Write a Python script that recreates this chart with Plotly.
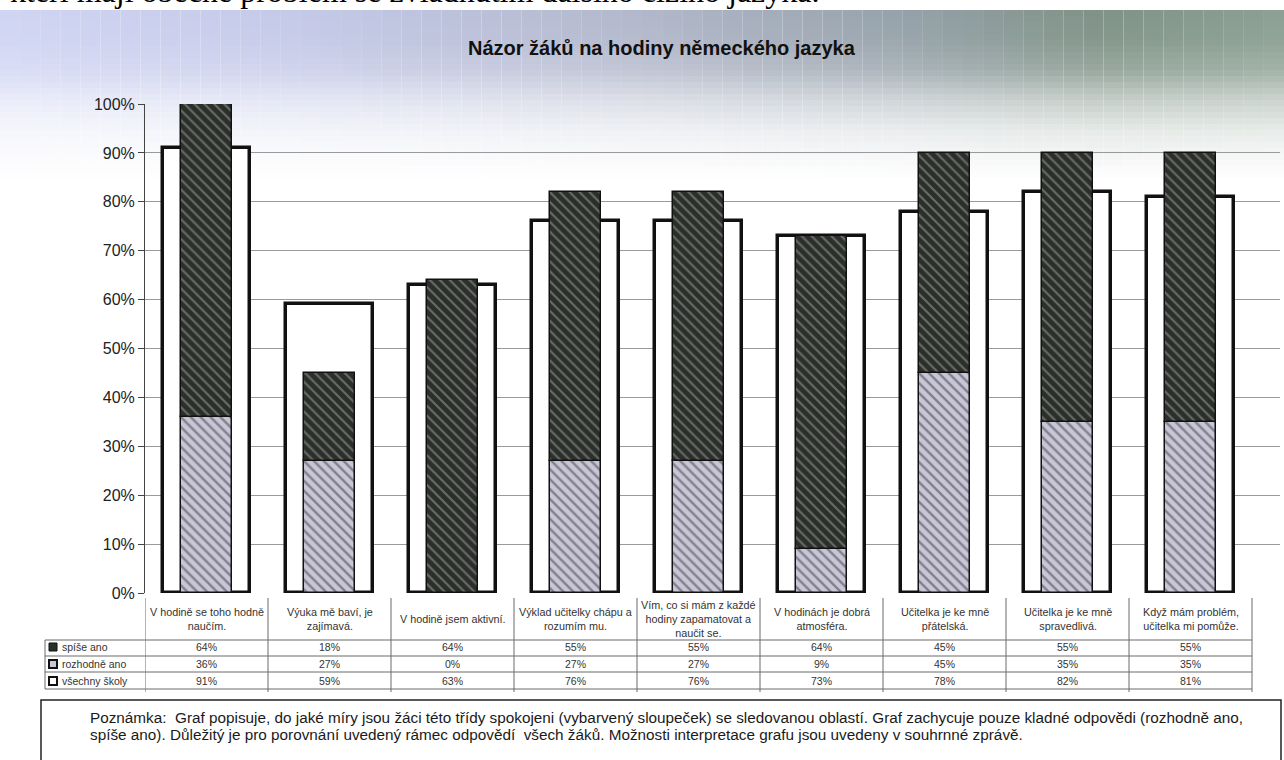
import plotly.graph_objects as go

# ---------------- data ----------------
categories = [
    "V hodině se toho hodně<br>naučím.",
    "Výuka mě baví, je<br>zajímavá.",
    "V hodině jsem aktivní.",
    "Výklad učitelky chápu a<br>rozumím mu.",
    "Vím, co si mám z každé<br>hodiny zapamatovat a<br>naučit se.",
    "V hodinách je dobrá<br>atmosféra.",
    "Učitelka je ke mně<br>přátelská.",
    "Učitelka je ke mně<br>spravedlivá.",
    "Když mám problém,<br>učitelka mi pomůže.",
]
spise_ano = [64, 18, 64, 55, 55, 64, 45, 55, 55]
rozhodne_ano = [36, 27, 0, 27, 27, 9, 45, 35, 35]
vsechny_skoly = [91, 59, 63, 76, 76, 73, 78, 82, 81]
series_names = ["spíše ano", "rozhodně ano", "všechny školy"]
y_ticks = [0, 10, 20, 30, 40, 50, 60, 70, 80, 90, 100]

title_text = "Názor žáků na hodiny německého jazyka"
top_text = "kteří mají obecně problém se zvládnutím dalšího cizího jazyka."
note_lines = [
    "Poznámka:  Graf popisuje, do jaké míry jsou žáci této třídy spokojeni (vybarvený sloupeček) se sledovanou oblastí. Graf zachycuje pouze kladné odpovědi (rozhodně ano,",
    "spíše ano). Důležitý je pro porovnání uvedený rámec odpovědí  všech žáků. Možnosti interpretace grafu jsou uvedeny v souhrnné zprávě.",
]

# ---------------- geometry helpers ----------------
W, H = 1284, 760
L, R, T, B = 145, 4, 104, 167
PW, PH = W - L - R, H - T - B
COLW = 1107 / 9.0          # width of one category column in px
XMAX = -0.5 + PW / COLW    # let gridlines run to the right edge


def fx(px):
    return (px - L) / PW


def fy(py):
    return (H - B - py) / PH


FONT = "Liberation Sans, Arial, sans-serif"
xs = list(range(len(categories)))

fig = go.Figure()

# outline bars (all schools)
fig.add_trace(go.Bar(
    x=xs, y=vsechny_skoly, width=0.7, name=series_names[2],
    marker=dict(color="rgba(255,255,255,1)", line=dict(color="#111", width=3.5)),
    hoverinfo="skip",
))
# rozhodně ano (lower, light hatched)
fig.add_trace(go.Bar(
    x=xs, y=rozhodne_ano, width=0.42, name=series_names[1],
    marker=dict(color="#3a3a48", line=dict(color="#111", width=1.5),
                pattern=dict(shape="\\", bgcolor="#c9c6d6", fgcolor="#3a3a48",
                             size=7, solidity=0.35)),
))
# spíše ano (upper, dark hatched)
fig.add_trace(go.Bar(
    x=xs, y=spise_ano, base=rozhodne_ano, width=0.42, name=series_names[0],
    marker=dict(color="#2b2f2a", line=dict(color="#111", width=1.5),
                pattern=dict(shape="\\", bgcolor="#2b2f2a", fgcolor="#a8a8a8",
                             size=7, solidity=0.3)),
))

shapes = []
annotations = []

# ---- scanned-paper tint band at the top (decoration) ----
key_x = [0, 300, 640, 900, 1100, 1284]
key_c = [(208, 213, 243), (196, 201, 232), (178, 184, 203), (150, 162, 170), (127, 146, 134), (140, 160, 147)]


def lerp_col(px):
    for i in range(len(key_x) - 1):
        if key_x[i] <= px <= key_x[i + 1]:
            t = (px - key_x[i]) / (key_x[i + 1] - key_x[i])
            return [key_c[i][j] + (key_c[i + 1][j] - key_c[i][j]) * t for j in range(3)]
    return list(key_c[-1])


alpha_keys = [(10, 1.0), (40, 0.95), (70, 0.8), (100, 0.45), (130, 0.2), (160, 0.07), (180, 0.0)]


def alpha_at(py):
    for i in range(len(alpha_keys) - 1):
        (y0, a0), (y1, a1) = alpha_keys[i], alpha_keys[i + 1]
        if y0 <= py <= y1:
            return a0 + (a1 - a0) * (py - y0) / (y1 - y0)
    return 0.0


row_edges = list(range(10, 181, 6))
ncol = 64
for i in range(ncol):
    x0p, x1p = i * W / ncol, (i + 1) * W / ncol
    base = lerp_col((x0p + x1p) / 2)
    for y0, y1 in zip(row_edges[:-1], row_edges[1:]):
        a = alpha_at((y0 + y1) / 2)
        c = [round(255 * (1 - a) + v * a) for v in base]
        shapes.append(dict(type="rect", xref="paper", yref="paper",
                           x0=fx(x0p), x1=fx(x1p), y0=fy(y1), y1=fy(y0),
                           fillcolor=f"rgb({c[0]},{c[1]},{c[2]})",
                           line=dict(width=0), layer="below"))

# top cropped text line (from the scanned page above)
annotations.append(dict(text=top_text, xref="paper", yref="paper", x=fx(8), y=fy(11),
                        xanchor="left", yanchor="bottom", showarrow=False,
                        font=dict(family="Liberation Serif, Times New Roman, serif", size=32, color="#000")))

# title
annotations.append(dict(text="<b>" + title_text + "</b>", xref="paper", yref="paper",
                        x=fx(662), y=fy(48), xanchor="center", yanchor="middle", showarrow=False,
                        font=dict(family=FONT, size=20, color="#111")))

# table geometry
row_y = [647, 664, 681]
row_vals = [spise_ano, rozhodne_ano, vsechny_skoly]
line_col = "#6a6a6a"
for k in range(len(categories) + 1):
    shapes.append(dict(type="line", xref="x", yref="paper", x0=k - 0.5, x1=k - 0.5,
                       y0=fy(598), y1=fy(692), line=dict(color=line_col, width=1)))
for py in [640, 656, 672, 689]:
    shapes.append(dict(type="line", xref="paper", yref="paper", x0=fx(45), x1=fx(1252),
                       y0=fy(py), y1=fy(py), line=dict(color=line_col, width=1)))
shapes.append(dict(type="line", xref="paper", yref="paper", x0=fx(45), x1=fx(45),
                   y0=fy(640), y1=fy(689), line=dict(color=line_col, width=1)))

# category labels
for k, c in enumerate(categories):
    annotations.append(dict(text=c, xref="x", yref="paper", x=k, y=fy(619),
                            xanchor="center", yanchor="middle", showarrow=False,
                            font=dict(family=FONT, size=10.8, color="#333")))
# values and row labels
for r, vals in enumerate(row_vals):
    for k, v in enumerate(vals):
        annotations.append(dict(text=f"{v}%", xref="x", yref="paper", x=k, y=fy(row_y[r]),
                                xanchor="center", yanchor="middle", showarrow=False,
                                font=dict(family=FONT, size=10.5, color="#333")))
    annotations.append(dict(text=series_names[r], xref="paper", yref="paper", x=fx(60),
                            y=fy(row_y[r]), xanchor="left", yanchor="middle", showarrow=False,
                            font=dict(family=FONT, size=10.5, color="#333")))

# legend keys in table
key_styles = [
    dict(fillcolor="#2b2f2a", line=dict(color="#111", width=1)),
    dict(fillcolor="#c9c6d6", line=dict(color="#111", width=2)),
    dict(fillcolor="#ffffff", line=dict(color="#111", width=2)),
]
for r, st in enumerate(key_styles):
    shapes.append(dict(type="rect", xref="paper", yref="paper",
                       x0=fx(49), x1=fx(57), y0=fy(row_y[r] + 4), y1=fy(row_y[r] - 4), **st))

# note box
shapes.append(dict(type="rect", xref="paper", yref="paper", x0=fx(41), x1=fx(1281),
                   y0=fy(770), y1=fy(700), line=dict(color="#222", width=1.5),
                   fillcolor="rgba(0,0,0,0)"))
for i, ln in enumerate(note_lines):
    annotations.append(dict(text=ln, xref="paper", yref="paper", x=fx(88), y=fy(717 + 17 * i),
                            xanchor="left", yanchor="middle", showarrow=False,
                            font=dict(family=FONT, size=15.3, color="#1a1a1a")))

fig.update_layout(
    width=W, height=H,
    margin=dict(l=L, r=R, t=T, b=B, autoexpand=False),
    barmode="overlay",
    bargap=0,
    showlegend=False,
    paper_bgcolor="white",
    plot_bgcolor="rgba(0,0,0,0)",
    shapes=shapes,
    annotations=annotations,
)
fig.update_xaxes(range=[-0.5, XMAX], showticklabels=False, showgrid=False,
                 zeroline=False, showline=False, fixedrange=True)
fig.update_yaxes(range=[0, 100], tickvals=y_ticks, ticktext=[f"{v}%" for v in y_ticks],
                 showgrid=True, gridcolor="#9a9a9a", gridwidth=1, zeroline=False,
                 showline=True, linecolor="#444", linewidth=1,
                 ticks="outside", ticklen=6, tickcolor="#444",
                 tickfont=dict(family=FONT, size=16, color="#222"), fixedrange=True)

fig.write_html("out.html", config={"displayModeBar": False},
               post_script="document.body.style.margin='0';document.body.style.overflow='hidden';")
